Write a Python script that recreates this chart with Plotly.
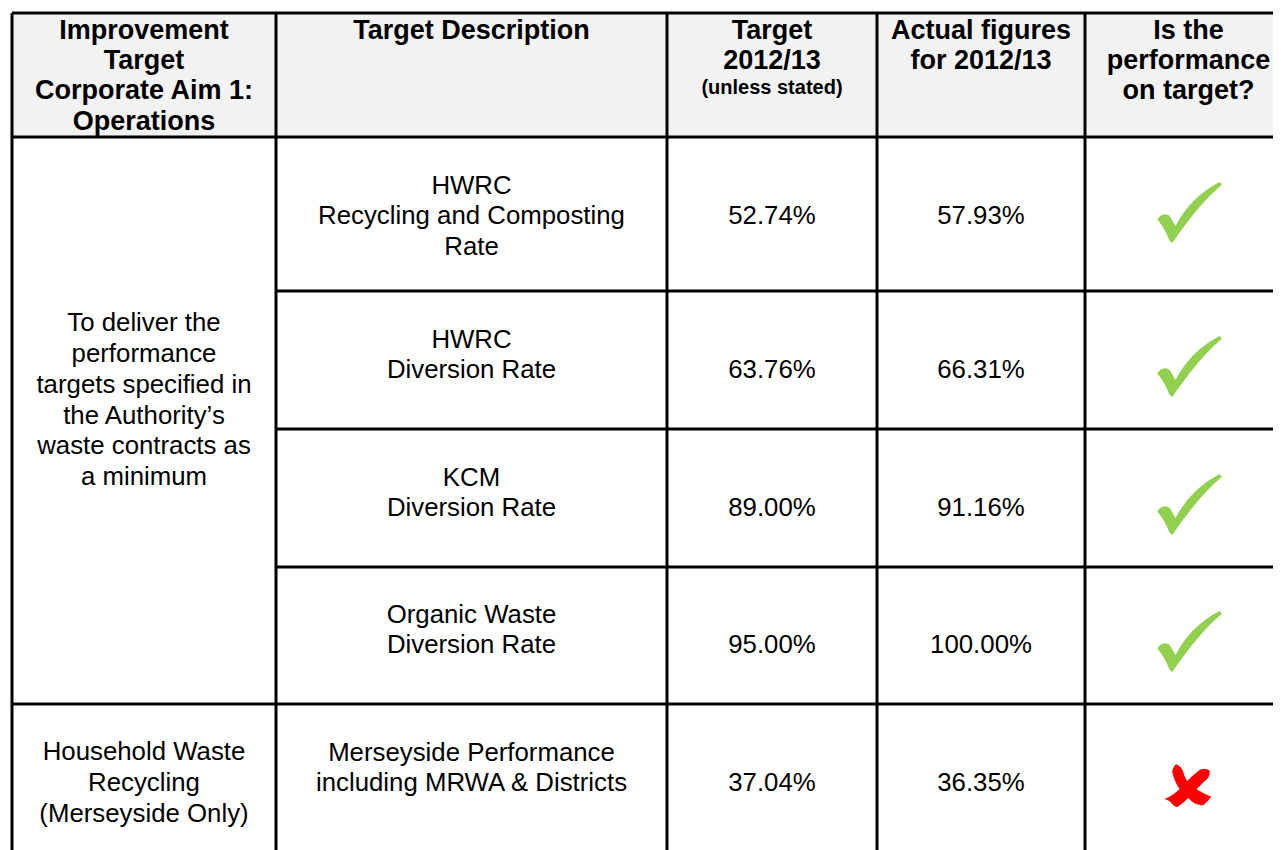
import plotly.graph_objects as go

# ---------------- data ----------------
header_labels = [
    ["Improvement", "Target", "Corporate Aim 1:", "Operations"],
    ["Target Description"],
    ["Target", "2012/13"],
    ["Actual figures", "for 2012/13"],
    ["Is the", "performance", "on target?"],
]
header_note = "(unless stated)"

aim_labels = [
    ["To deliver the", "performance", "targets specified in", "the Authority\u2019s",
     "waste contracts as", "a minimum"],
    ["Household Waste", "Recycling", "(Merseyside Only)"],
]
aim_row_span = [4, 1]

target_descriptions = [
    ["HWRC", "Recycling and Composting", "Rate"],
    ["HWRC", "Diversion Rate"],
    ["KCM", "Diversion Rate"],
    ["Organic Waste", "Diversion Rate"],
    ["Merseyside Performance", "including MRWA & Districts"],
]
target_2012_13 = [52.74, 63.76, 89.00, 95.00, 37.04]
actual_2012_13 = [57.93, 66.31, 91.16, 100.00, 36.35]
on_target = [a >= t for a, t in zip(actual_2012_13, target_2012_13)]

# ---------------- layout / style ----------------
PAGE_W, PAGE_H = 1281, 850
BODY_MARGIN = 8          # default page margin around the plot div
W, H = PAGE_W - BODY_MARGIN, PAGE_H - BODY_MARGIN
col_edges = [12, 276, 667, 877, 1085, 1292]
row_edges = [13, 137, 291, 429, 567, 704, 862]
row_text_y = [215, 369, 507, 644, 782]
aim_first_line_y = [322, 751]
header_first_line_y = 30
note_y = 87
line_pitch = 30.7
header_pitch = 30.3
TEXT_DY = 3              # baseline compensation for centred text
HEAD_DY = 2
FONT = "Liberation Sans, Arial, sans-serif"
BODY_SIZE = 25.8
HEAD_SIZE = 27
NOTE_SIZE = 20
HEADER_FILL = "#F2F2F2"
GRID = "#000000"
GRID_W = 3
GREEN = "#92D050"
RED = "#FF0000"

col_mid = [(col_edges[i] + col_edges[i + 1]) / 2 for i in range(len(col_edges) - 1)]

fig = go.Figure()


def add_text(xs, ys, texts, size, bold=False, dy=TEXT_DY):
    fig.add_trace(go.Scatter(
        x=xs, y=[v + dy for v in ys], mode="text",
        text=[f"<b>{t}</b>" if bold else t for t in texts],
        textposition="middle center",
        textfont=dict(family=FONT, size=size, color="#000000"),
        hoverinfo="skip", showlegend=False,
    ))


# header text
hx, hy, ht = [], [], []
for c, lines in enumerate(header_labels):
    for k, ln in enumerate(lines):
        hx.append(col_mid[c])
        hy.append(header_first_line_y + k * header_pitch)
        ht.append(ln)
add_text(hx, hy, ht, HEAD_SIZE, bold=True, dy=HEAD_DY)
add_text([col_mid[2]], [note_y], [header_note], NOTE_SIZE, bold=True, dy=HEAD_DY)

# aim (merged first column)
ax_, ay_, at_ = [], [], []
for a, lines in enumerate(aim_labels):
    for k, ln in enumerate(lines):
        ax_.append(col_mid[0])
        ay_.append(aim_first_line_y[a] + k * line_pitch)
        at_.append(ln)
add_text(ax_, ay_, at_, BODY_SIZE)

# descriptions
dx, dy, dt = [], [], []
for r, lines in enumerate(target_descriptions):
    for k, ln in enumerate(lines):
        dx.append(col_mid[1])
        dy.append(row_text_y[r] - line_pitch + k * line_pitch)
        dt.append(ln)
add_text(dx, dy, dt, BODY_SIZE)

# values
add_text([col_mid[2]] * len(target_2012_13), row_text_y,
         [f"{v:.2f}%" for v in target_2012_13], BODY_SIZE)
add_text([col_mid[3]] * len(actual_2012_13), row_text_y,
         [f"{v:.2f}%" for v in actual_2012_13], BODY_SIZE)

shapes = []
# header background
shapes.append(dict(type="rect", xref="x", yref="y", x0=col_edges[0], x1=col_edges[-1],
                   y0=row_edges[0], y1=row_edges[1], fillcolor=HEADER_FILL,
                   line=dict(width=0), layer="below"))

# horizontal rules
span_starts = set()
acc = 1
for s in aim_row_span:
    span_starts.add(acc)
    acc += s
for i, y in enumerate(row_edges):
    x0 = col_edges[0] if (i <= 1 or i in span_starts or i == len(row_edges) - 1) else col_edges[1]
    shapes.append(dict(type="line", xref="x", yref="y", x0=x0, x1=col_edges[-1], y0=y, y1=y,
                       line=dict(color=GRID, width=GRID_W)))
# vertical rules
for x in col_edges:
    shapes.append(dict(type="line", xref="x", yref="y", x0=x, x1=x,
                       y0=row_edges[0], y1=row_edges[-1],
                       line=dict(color=GRID, width=GRID_W)))

# icons (offsets in px relative to the icon centre)
check_tpl = [("M", (-32.3, 7.3)), ("Q", (-29, 2.5), (-24.5, 2.3)), ("Q", (-21.5, 2.3), (-19.5, 4.5)),
             ("L", (-14, 14)), ("Q", (1, -15), (30, -30)), ("L", (32.5, -27.3)),
             ("Q", (11, -10), (-17.3, 31)), ("L", (-20, 28.7)), ("Q", (-25, 16), (-32.3, 7.3)), ("Z",)]
cross_tpl_a = [("M", (-11.3, -21.7)), ("Q", (-6, -20), (-4, -13)), ("Q", (-2, -6), (3, -1)),
               ("Q", (12, 6), (23.7, 10.7)), ("Q", (20, 16), (16, 19)),
               ("Q", (10, 20), (5, 16)), ("Q", (-2, 10), (-8, 3)),
               ("Q", (-14, -6), (-15.3, -15)), ("Q", (-14, -20), (-11.3, -21.7)), ("Z",)]
cross_tpl_b = [("M", (22, -15.5)), ("Q", (18, -18.5), (12, -16)), ("Q", (4, -10), (-3, -2)),
               ("Q", (-10, 6), (-18, 10.7)), ("L", (-23, 13)), ("Q", (-19, 14), (-16, 17)),
               ("Q", (-13, 21), (-10, 21)), ("Q", (-3, 16), (2, 10.7)),
               ("Q", (12, 0), (20.3, -7.7)), ("Q", (23, -12), (22, -15.5)), ("Z",)]


def build_path(tpl, cx, cy):
    parts = []
    for cmd in tpl:
        if cmd[0] == "Z":
            parts.append("Z")
        else:
            pts = " ".join(f"{cx + px:.1f},{cy + py:.1f}" for px, py in cmd[1:])
            parts.append(f"{cmd[0]} {pts}")
    return " ".join(parts)


for r, ok in enumerate(on_target):
    if ok:
        cx, cy = col_mid[4] + 1, row_text_y[r] - 3
        shapes.append(dict(type="path", xref="x", yref="y", path=build_path(check_tpl, cx, cy),
                           fillcolor=GREEN, line=dict(width=0)))
    else:
        cx, cy = col_mid[4] - 1, row_text_y[r] + 4
        for tpl in (cross_tpl_a, cross_tpl_b):
            shapes.append(dict(type="path", xref="x", yref="y", path=build_path(tpl, cx, cy),
                               fillcolor=RED, line=dict(width=0)))

# the plot div sits BODY_MARGIN px inside the page, so the axis ranges start there
fig.update_layout(
    width=W, height=H, autosize=False,
    margin=dict(l=0, r=0, t=0, b=0),
    paper_bgcolor="#FFFFFF", plot_bgcolor="#FFFFFF",
    xaxis=dict(range=[BODY_MARGIN, PAGE_W], visible=False, fixedrange=True),
    yaxis=dict(range=[PAGE_H, BODY_MARGIN], visible=False, fixedrange=True),
    shapes=shapes,
    showlegend=False,
)

fig.write_html("out.html", config={"displayModeBar": False})
